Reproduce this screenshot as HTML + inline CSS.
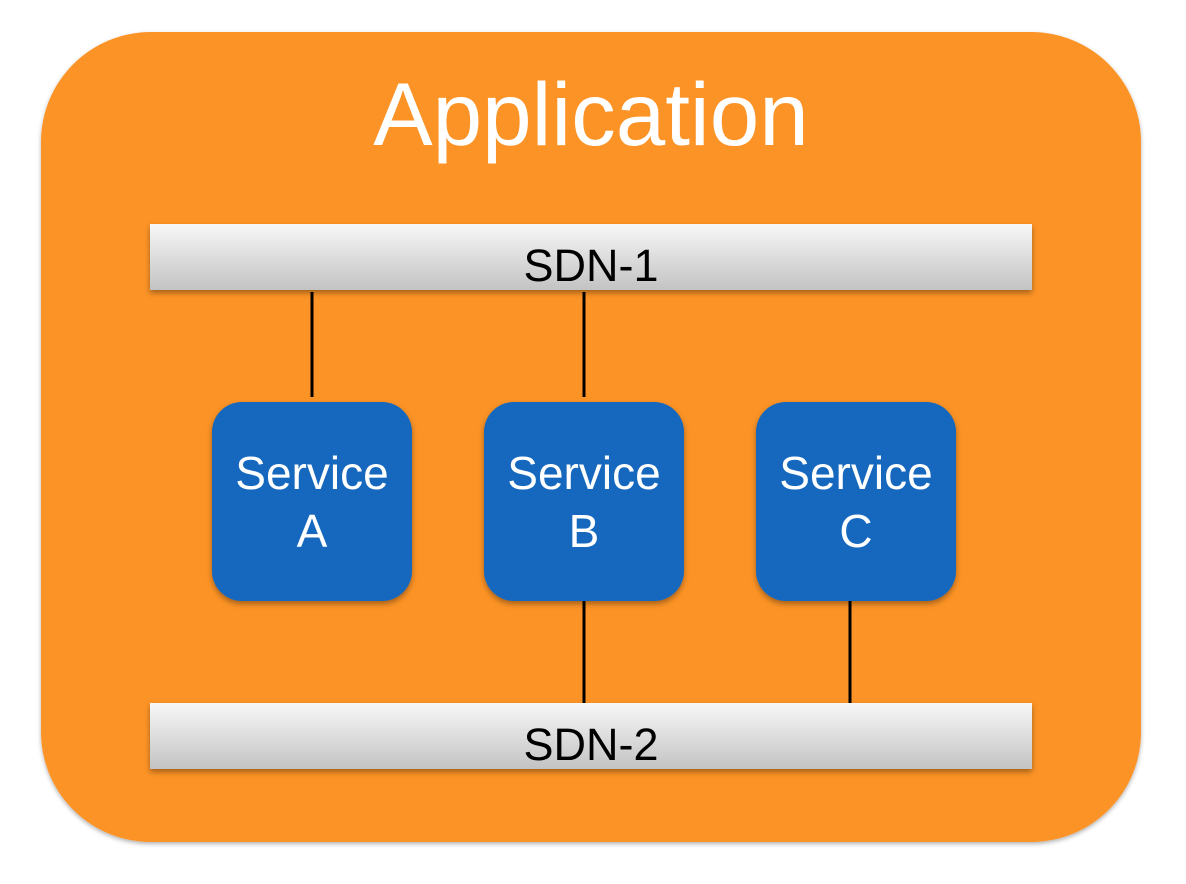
<!DOCTYPE html>
<html><head><meta charset="utf-8"><style>
html,body{margin:0;padding:0;background:#fff;width:1186px;height:884px;overflow:hidden}
svg{display:block}
text{font-family:"Liberation Sans",sans-serif}
</style></head><body>
<svg width="1186" height="884" viewBox="0 0 1186 884" xmlns="http://www.w3.org/2000/svg">
<defs>
<linearGradient id="g" x1="0" y1="0" x2="0" y2="1">
<stop offset="0" stop-color="#f7f7f7"/><stop offset="1" stop-color="#c3c3c3"/>
</linearGradient>
<filter id="s" x="-10%" y="-10%" width="120%" height="130%">
<feDropShadow dx="0" dy="3" stdDeviation="3" flood-color="#000" flood-opacity="0.35"/>
</filter>
<filter id="s2" x="-10%" y="-10%" width="120%" height="120%">
<feDropShadow dx="0" dy="2" stdDeviation="2" flood-color="#000" flood-opacity="0.3"/>
</filter>
</defs>
<rect x="41" y="32" width="1100" height="810" rx="110" ry="110" fill="#fc9327" filter="url(#s2)"/>
<text x="591" y="145" font-size="89" fill="#fff" text-anchor="middle">Application</text>
<g stroke="#000" stroke-width="3">
<line x1="312" y1="292" x2="312" y2="397"/>
<line x1="584" y1="292" x2="584" y2="397"/>
<line x1="584" y1="600" x2="584" y2="704"/>
<line x1="850" y1="600" x2="850" y2="704"/>
</g>
<rect x="150" y="224" width="882" height="66" fill="url(#g)" filter="url(#s)"/>
<text x="591" y="281" font-size="45" fill="#000" text-anchor="middle">SDN-1</text>
<rect x="150" y="703" width="882" height="66" fill="url(#g)" filter="url(#s)"/>
<text x="591" y="760" font-size="45" fill="#000" text-anchor="middle">SDN-2</text>
<g fill="#1368bf" filter="url(#s)">
<rect x="212" y="402" width="200" height="199" rx="30"/>
<rect x="484" y="402" width="200" height="199" rx="30"/>
<rect x="756" y="402" width="200" height="199" rx="30"/>
</g>
<g fill="#fff" font-size="46" text-anchor="middle">
<text x="312" y="489">Service</text><text x="312" y="547">A</text>
<text x="584" y="489">Service</text><text x="584" y="547">B</text>
<text x="856" y="489">Service</text><text x="856" y="547">C</text>
</g>
</svg>
</body></html>
